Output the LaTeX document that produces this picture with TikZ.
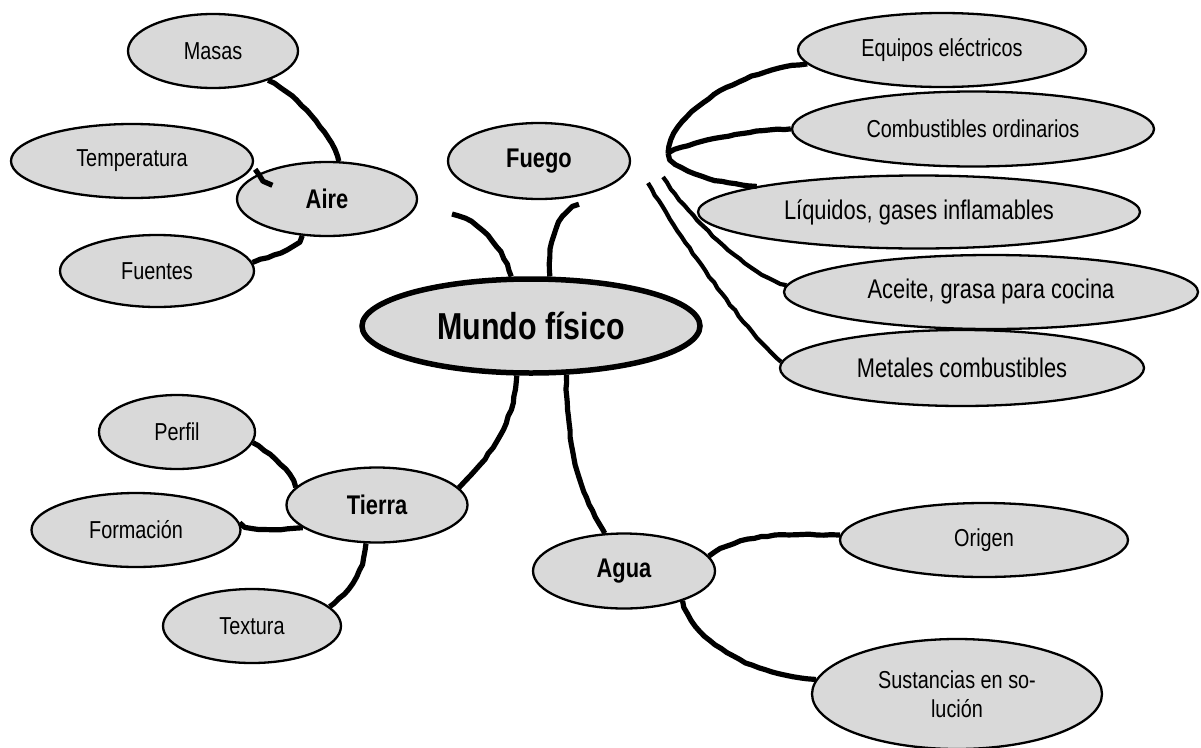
\documentclass[tikz,border=0pt]{standalone}
\usepackage{fontspec}
\setmainfont{Liberation Sans}[FakeStretch=0.81]
\usetikzlibrary{shapes.geometric,decorations.pathmorphing}
\definecolor{bubgray}{RGB}{217,217,217}
\newcommand\fnorm{\fontsize{24.5}{29}\selectfont}
\newcommand\fbig{\fontsize{27}{31}\selectfont}
\newcommand\fbold{\fontsize{27}{31}\selectfont\bfseries}
\newcommand\fmain{\fontsize{37.5}{44}\selectfont\bfseries}
\begin{document}
\begin{tikzpicture}[x=1pt,y=-1pt,
  bub/.style={ellipse, draw=black, line width=2.3pt, fill=bubgray, inner sep=0pt, align=center, font=\fnorm},
  link/.style={line width=5.2pt, line join=round, line cap=butt,
    decorate, decoration={random steps, segment length=7pt, amplitude=0.6pt}},
  thinlink/.style={link, line width=4.2pt}]
\pgfmathsetseed{7}
\useasboundingbox (0,0) rectangle (1201,747);

% left group: Aire
\node[bub, minimum width=170pt, minimum height=74pt] (masas) at (213,51) {Masas};
\node[bub, minimum width=242pt, minimum height=74pt] (temp) at (132,161) {Temperatura};
\node[bub, minimum width=180pt, minimum height=74pt, font=\fbold] (aire) at (327,199) {Aire};
\node[bub, minimum width=194pt, minimum height=72pt] (fuentes) at (157,271) {Fuentes};

% Fuego
\node[bub, minimum width=182pt, minimum height=76pt, font=\fbold] (fuego) at (539,161) {Fuego};

% Main
\node[bub, line width=5.5pt, minimum width=338pt, minimum height=94pt, font=\fmain] (mundo) at (531,326) {Mundo físico};

% fire classes
\node[bub, minimum width=288pt, minimum height=74pt] (equipos) at (942,50) {Equipos eléctricos};
\node[bub, minimum width=362pt, minimum height=75pt] (comb) at (973,129) {Combustibles ordinarios};
\node[bub, minimum width=442pt, minimum height=73pt, font=\fbig] (liq) at (919,212) {Líquidos, gases inflamables};
\node[bub, minimum width=414pt, minimum height=74pt, font=\fbig] (aceite) at (991,292) {Aceite, grasa para cocina};
\node[bub, minimum width=364pt, minimum height=76pt, font=\fbig] (metales) at (962,368) {Metales combustibles};

% Tierra group
\node[bub, minimum width=156pt, minimum height=74pt] (perfil) at (177,432) {Perfil};
\node[bub, minimum width=209pt, minimum height=74pt] (formacion) at (136,530) {Formación};
\node[bub, minimum width=181pt, minimum height=75pt, font=\fbold] (tierra) at (377,505) {Tierra};
\node[bub, minimum width=178pt, minimum height=74pt] (textura) at (252,626) {Textura};

% Agua group
\node[bub, minimum width=182pt, minimum height=75pt, font=\fbold] (agua) at (624,571) {Agua};
\node[bub, minimum width=288pt, minimum height=74pt] (origen) at (984,540) {Origen};
\node[bub, minimum width=290pt, minimum height=110pt] (sust) at (957,694) {Sustancias en so-\\lución};

% free ends
\coordinate (f0) at (452,214);
\coordinate (fa) at (668,153);
\coordinate (fb) at (663,177);
\coordinate (fc) at (648,183);

% Aire connectors
\draw[link] (masas.-28) .. controls +(25,12) and +(-8,-30) .. (aire.73);
\draw[link] ([xshift=4pt]temp.-4) .. controls +(6,10) and +(-10,0) .. ([yshift=-14pt]aire.150);
\draw[link] (aire.-124) .. controls +(-5,14) and +(14,-6) .. (fuentes.5);

% Fuego to main
\draw[link] (f0) .. controls +(28,6) and +(-6,-25) .. (mundo.112);
\draw[link] ([shift={(5,7)}]fuego.-46) .. controls +(-25,10) and +(-2,-30) .. (mundo.69);

% fire classes
\draw[link] (fa) .. controls +(3,-45) and +(-55,2) .. (equipos.-174);
\draw[link] (fa) .. controls +(25,-12) and +(-35,0) .. (comb.180);
\draw[link] (fa) .. controls +(6,20) and +(-35,-2) .. (liq.171);
\draw[thinlink] (fb) .. controls +(20,32) and +(-40,-8) .. (aceite.178);
\draw[thinlink] (fc) .. controls +(25,45) and +(-35,-28) .. (metales.178);

% main to Tierra / Agua
\draw[link] (mundo.-106) .. controls +(-3,55) and +(22,-22) .. (tierra.12);
\draw[link] (mundo.-54) .. controls +(0,95) and +(-15,-25) .. (agua.117);

% Tierra connectors
\draw[link] (perfil.-8) .. controls +(18,12) and +(-4,-18) .. (tierra.168);
\draw[link] (formacion.4) .. controls +(12,10) and +(-25,2) .. (tierra.-163);
\draw[link] (tierra.-106) .. controls +(-2,32) and +(15,-12) .. (textura.14);

% Agua connectors
\draw[link] (agua.10) .. controls +(35,-25) and +(-50,0) .. (origen.178);
\draw[link] (agua.-27) .. controls +(12,45) and +(-55,-2) .. (sust.174);
\end{tikzpicture}
\end{document}
